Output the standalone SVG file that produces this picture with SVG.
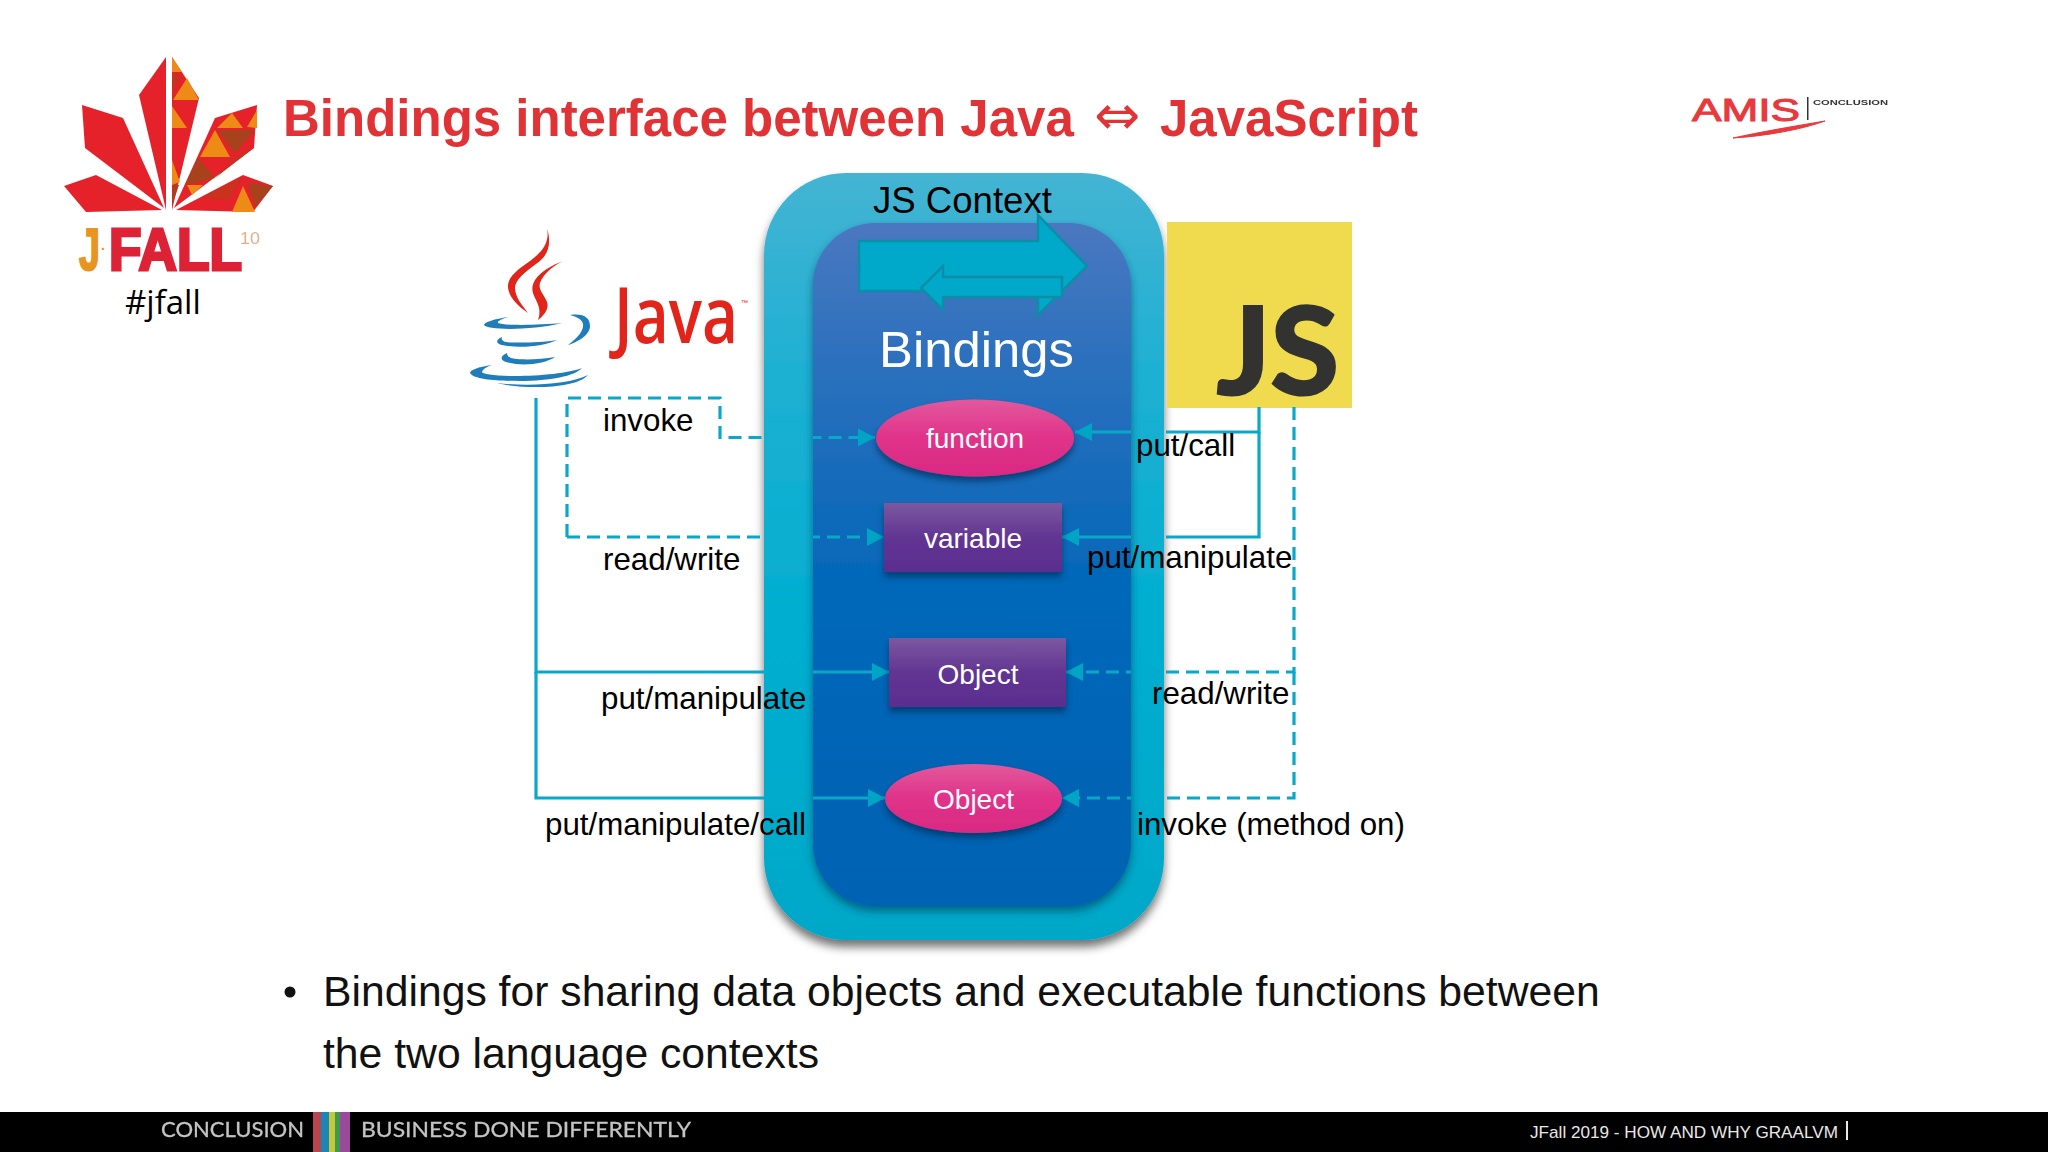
<svg xmlns="http://www.w3.org/2000/svg" width="2048" height="1152" viewBox="0 0 2048 1152">
<style>
.lbl{font:31.3px "Liberation Sans",Arial,sans-serif;fill:#000}
.wht{font:28px "Liberation Sans",Arial,sans-serif;fill:#fff;text-anchor:middle}
.solid{fill:none;stroke:#0aa8c8;stroke-width:3.2}
.dash{fill:none;stroke:#0aa8c8;stroke-width:3.2;stroke-dasharray:13 7}
.arrow{fill:#00a9c9;stroke:#0c8ea8;stroke-width:2.5}
.red{fill:#e5202c}.or{fill:#ee8a12}.br{fill:#a8421a}.dr{fill:#c9301f}
.blue{fill:#1f7dba}
.body{font:42.7px "Liberation Sans",Arial,sans-serif;fill:#111}
</style>
<defs>
<linearGradient id="gOuter" x1="0" y1="0" x2="0" y2="1"><stop offset="0" stop-color="#45b4d3"/><stop offset=".25" stop-color="#1fb0d3"/><stop offset=".6" stop-color="#00aed0"/><stop offset="1" stop-color="#00a8c8"/></linearGradient>
<linearGradient id="gInner" x1="0" y1="0" x2="0" y2="1"><stop offset="0" stop-color="#4a78c0"/><stop offset=".2" stop-color="#2c70bd"/><stop offset=".55" stop-color="#0067b8"/><stop offset="1" stop-color="#0062b2"/></linearGradient>
<linearGradient id="gPink" x1="0" y1="0" x2="0" y2="1"><stop offset="0" stop-color="#e2599c"/><stop offset=".5" stop-color="#e0328a"/><stop offset="1" stop-color="#d92a82"/></linearGradient>
<linearGradient id="gPurple" x1="0" y1="0" x2="0" y2="1"><stop offset="0" stop-color="#7b589f"/><stop offset=".5" stop-color="#623593"/><stop offset="1" stop-color="#5a2d8e"/></linearGradient>
<filter id="sOuter" x="-10%" y="-5%" width="120%" height="110%"><feDropShadow dx="0" dy="7" stdDeviation="5" flood-color="#000" flood-opacity=".55"/></filter>
<filter id="sInner" x="-10%" y="-5%" width="120%" height="110%"><feDropShadow dx="0" dy="5" stdDeviation="4" flood-color="#003050" flood-opacity=".55"/></filter>
<filter id="sNode" x="-10%" y="-20%" width="120%" height="150%"><feDropShadow dx="0" dy="5" stdDeviation="3" flood-color="#002a55" flood-opacity=".65"/></filter>
<filter id="soft"><feGaussianBlur stdDeviation=".6"/></filter>
<filter id="soft2"><feGaussianBlur stdDeviation=".5"/></filter>
<clipPath id="noBand"><rect x="0" y="0" width="764" height="1152"/><rect x="813" y="0" width="318" height="1152"/><rect x="1166" y="0" width="882" height="1152"/></clipPath>
<marker id="ah" markerUnits="userSpaceOnUse" markerWidth="18" markerHeight="20" refX="17" refY="10" orient="auto"><path d="M0 1L17 10L0 19Z" fill="#00a5c5"/></marker>
</defs>
<rect width="2048" height="1152" fill="#fff"/>

<g id="jfall-logo">
<g filter="url(#soft2)">
<polygon class="red" points="166,57 139,95 166,210"/>
<polygon class="red" points="172,57 199,98 172,210"/>
<polygon class="or" points="172,57 182,72 172,72"/>
<polygon class="dr" points="172,74 182,74 172,94"/>
<polygon class="or" points="187,78 199,100 173,100"/>
<polygon class="or" points="172,106 187,128 172,128"/>
<polygon class="or" points="172,160 180,182 172,185"/>
<polygon class="br" points="173,185 179,185 172,205"/>
<polygon class="red" points="82,105 123,118 164,208 85,148"/>
<polygon class="red" points="257,105 215,118 174,208 254,148"/>
<polygon class="or" points="217,128 232,113 243,128"/>
<polygon class="or" points="247,127 257,110 257,128"/>
<polygon class="br" points="217,130 255,130 235,153"/>
<polygon class="or" points="215,130 230,157 200,157"/>
<polygon class="br" points="198,158 215,178 185,185"/>
<polygon class="dr" points="238,155 255,147 215,178"/>
<polygon class="or" points="187,185 203,185 192,195"/>
<polygon class="red" points="64,186 96,175 162,210 86,212"/>
<polygon class="red" points="273,186 243,175 176,210 253,212"/>
<polygon class="dr" points="202,197 243,177 228,200"/>
<polygon class="br" points="248,183 273,186 255,207"/>
<polygon class="or" points="243,186 255,212 232,212"/>
</g>
<text y="270" font-family="'Liberation Sans',sans-serif" font-weight="700" font-size="60" fill="#de2236" stroke="#de2236" stroke-width="3"><tspan x="79" fill="#e8941e" stroke="#e8941e" stroke-width="2" textLength="21" lengthAdjust="spacingAndGlyphs">J</tspan><tspan x="101" y="254" font-size="14" fill="#e8941e" stroke="none">·</tspan><tspan x="109" y="270" textLength="133" lengthAdjust="spacingAndGlyphs">FALL</tspan></text>
<text x="240" y="244" font-family="'Liberation Sans',sans-serif" font-size="17" fill="#dd9a70" opacity=".8" textLength="20" lengthAdjust="spacingAndGlyphs" filter="url(#soft2)">10</text>
<text x="125" y="314" font-family="'Open Sans',sans-serif" font-size="33" fill="#000">#jfall</text>
</g>

<text id="title" y="136" font-family="'Liberation Sans',Arial,sans-serif" font-weight="700" font-size="51" fill="#e13236"><tspan x="283">Bindings interface between Java</tspan><tspan x="1094" y="134" font-family="'DejaVu Sans',sans-serif" font-size="55" font-weight="400">⇔</tspan><tspan x="1160" y="136">JavaScript</tspan></text>

<g id="amis-logo">
<text x="1692" y="121" font-family="'Liberation Sans',sans-serif" font-size="32" fill="#e8393d" stroke="#e8393d" textLength="108" lengthAdjust="spacingAndGlyphs">AMIS</text>
<rect x="1807" y="97" width="1.5" height="23" fill="#333"/>
<text x="1813" y="105" font-family="'Liberation Sans',sans-serif" font-size="8" font-weight="700" fill="#333" textLength="75" lengthAdjust="spacingAndGlyphs" filter="url(#soft2)">CONCLUSION</text>
<path d="M1733 138C1765 136 1800 130 1825 121C1795 126 1760 132 1733 138Z" fill="#e8393d" stroke="#e8393d"/>
</g>

<g id="java-logo">
<path fill="#e1251b" d="M547 228C552 245 548 256 536 264C525 272 515 280 515 288C515 297 522 305 528 313C518 306 508 297 508 286C508 276 520 268 530 261C542 252 550 243 547 228Z"/>
<path fill="#e1251b" d="M563 261C552 265 540 272 535 280C530 288 533 294 536 300C539 306 541 312 538 320C546 314 549 307 547 302C544 294 538 290 540 283C543 274 553 266 563 261Z"/>
<path class="blue" d="M508 317C495 319 484 322 484 325C486 330 530 331 562 323C540 325 505 326 498 323C497 321 502 319 508 317Z"/>
<path class="blue" d="M570 315C584 313 590 318 590 326C590 335 578 342 568 345C578 338 584 330 583 324C582 319 577 317 570 315Z"/>
<path class="blue" d="M502 337C495 340 496 344 502 345C520 349 545 346 557 340C540 343 512 343 506 342C502 341 501 339 502 337Z"/>
<path class="blue" d="M507 353C500 356 500 360 506 362C522 367 545 364 555 357C540 360 516 360 511 358C508 357 507 355 507 353Z"/>
<path class="blue" d="M492 365C478 367 470 370 470 373C474 380 500 381 520 381C550 381 575 376 582 368C570 373 540 376 515 376C495 376 482 374 482 372C483 369 486 367 492 365Z"/>
<path class="blue" d="M497 383C520 389 575 390 588 375C570 384 530 387 497 383Z"/>
<text x="614" y="343" font-family="'Open Sans',sans-serif" font-weight="600" font-size="77" fill="#e1251b" textLength="124" lengthAdjust="spacingAndGlyphs">Java</text>
<text x="741" y="305" font-family="'Liberation Sans',sans-serif" font-size="7" fill="#e1251b">™</text>
</g>

<g id="js-context">
<rect x="764" y="173" width="400" height="767" rx="82" ry="82" fill="url(#gOuter)" filter="url(#sOuter)"/>
<text x="873" y="213" font-family="'Liberation Sans',sans-serif" font-size="36.6" fill="#000">JS Context</text>
</g>

<g id="bindings">
<rect x="813" y="223" width="318" height="683" rx="62" ry="62" fill="url(#gInner)" filter="url(#sInner)"/>
<path class="arrow" d="M859 241H1038V215L1087 266L1038 315V291H859Z"/>
<path class="arrow" d="M1062 277H943V266L921 288L943 310V297H1062Z"/>
<text x="879" y="367" font-family="'Liberation Sans',sans-serif" font-size="50.8" fill="#fff">Bindings</text>
</g>

<g id="js-logo">
<rect x="1167" y="222" width="185" height="186" fill="#f0db4f"/>
<text x="1217" y="394" font-family="Lato,sans-serif" font-weight="700" font-size="120" fill="#323330" stroke="#323330" stroke-width="3" textLength="122" lengthAdjust="spacingAndGlyphs">JS</text>
</g>

<g id="connectors" clip-path="url(#noBand)">
<path class="dash" d="M567 537V398H720V437.5H875" marker-end="url(#ah)"/>
<path class="dash" d="M567 537H884" marker-end="url(#ah)"/>
<path class="solid" d="M536 398V672H889" marker-end="url(#ah)"/>
<path class="solid" d="M536 672V798H885" marker-end="url(#ah)"/>
<path class="solid" d="M1259 407V432H1075" marker-end="url(#ah)"/>
<path class="solid" d="M1259 432V537H1062" marker-end="url(#ah)"/>
<path class="dash" d="M1294 407V672H1066" marker-end="url(#ah)"/>
<path class="dash" d="M1294 672V798H1062" marker-end="url(#ah)"/>
</g>

<g id="function"><ellipse cx="975" cy="438" rx="99" ry="38.5" fill="url(#gPink)" filter="url(#sNode)"/><text class="wht" x="975" y="448">function</text></g>
<g id="variable"><rect x="884" y="503" width="178" height="69" fill="url(#gPurple)" filter="url(#sNode)"/><text class="wht" x="973" y="548">variable</text></g>
<g id="object-rect"><rect x="889" y="638" width="177" height="69" fill="url(#gPurple)" filter="url(#sNode)"/><text class="wht" x="978" y="684">Object</text></g>
<g id="object-ellipse"><ellipse cx="973.5" cy="798.5" rx="88.5" ry="34.5" fill="url(#gPink)" filter="url(#sNode)"/><text class="wht" x="973.5" y="809">Object</text></g>

<g id="labels">
<text class="lbl" x="603" y="431">invoke</text>
<text class="lbl" x="603" y="570">read/write</text>
<text class="lbl" x="601" y="709">put/manipulate</text>
<text class="lbl" x="545" y="835">put/manipulate/call</text>
<text class="lbl" x="1136" y="456">put/call</text>
<text class="lbl" x="1087" y="568">put/manipulate</text>
<text class="lbl" x="1152" y="704">read/write</text>
<text class="lbl" x="1137" y="835">invoke (method on)</text>
</g>

<g id="body-text">
<circle cx="290" cy="992" r="5.5" fill="#111"/>
<text class="body" x="323" y="1006">Bindings for sharing data objects and executable functions between</text>
<text class="body" x="323" y="1068">the two language contexts</text>
</g>

<g id="footer">
<rect y="1112" width="2048" height="40" fill="#000"/>
<g filter="url(#soft2)">
<rect x="313" y="1112" width="8" height="40" fill="#b8444f"/>
<rect x="321" y="1112" width="8" height="40" fill="#1a86b8"/>
<rect x="329" y="1112" width="6" height="40" fill="#c4c83a"/>
<rect x="335" y="1112" width="5" height="40" fill="#3f9a4a"/>
<rect x="340" y="1112" width="10" height="40" fill="#9a4a9c"/>
</g>
<g filter="url(#soft)" font-family="Lato,sans-serif" font-size="21" fill="#c4c4c4" stroke="#c4c4c4" stroke-width=".3">
<text x="161" y="1137" textLength="143" lengthAdjust="spacingAndGlyphs">CONCLUSION</text>
<text x="361" y="1137" textLength="330" lengthAdjust="spacingAndGlyphs">BUSINESS DONE DIFFERENTLY</text>
</g>
<text x="1530" y="1138" font-family="'Liberation Sans',sans-serif" font-size="17.15" fill="#e8e8e8">JFall 2019 - HOW AND WHY GRAALVM</text>
<rect x="1846" y="1121" width="2" height="19" fill="#e8e8e8"/>
</g>
</svg>
